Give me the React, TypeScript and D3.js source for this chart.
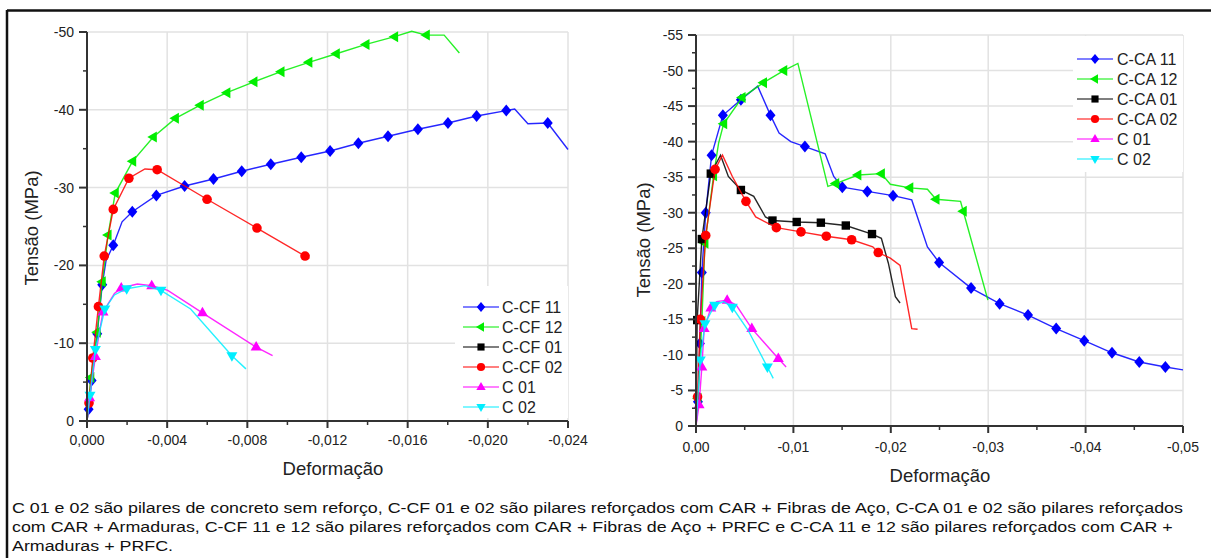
import React from 'react';
import * as d3 from 'd3';

// [strain, stress (MPa), marker flag]
type Pt = [number, number, number];

// ---------- Pilares C-CF (CAR + Fibras de Aço) ----------
const ccf11: Pt[] = [
  [0, 0, 0], [-0.00008, -1.5, 1], [-0.00023, -5.2, 1], [-0.00051, -11.2, 1], [-0.00076, -17.5, 1],
  [-0.00095, -20.6, 0], [-0.00131, -22.6, 1], [-0.00175, -25.6, 0], [-0.00226, -26.9, 1],
  [-0.00346, -29.0, 1], [-0.00487, -30.2, 1], [-0.00631, -31.1, 1], [-0.00772, -32.1, 1],
  [-0.00917, -33.0, 1], [-0.01069, -33.9, 1], [-0.01213, -34.7, 1], [-0.01354, -35.7, 1],
  [-0.01502, -36.6, 1], [-0.01651, -37.5, 1], [-0.01801, -38.3, 1], [-0.01944, -39.2, 1],
  [-0.02092, -39.9, 1], [-0.02134, -40.1, 0], [-0.0220, -38.2, 0], [-0.02299, -38.3, 1],
  [-0.0240, -34.9, 0],
];
const ccf12: Pt[] = [
  [0, 0, 0], [-0.00019, -5.6, 1], [-0.00051, -11.4, 1], [-0.00076, -17.9, 1], [-0.00105, -23.9, 1],
  [-0.00141, -29.3, 1], [-0.00228, -33.4, 1], [-0.00331, -36.5, 1], [-0.00441, -38.9, 1],
  [-0.00565, -40.6, 1], [-0.00698, -42.2, 1], [-0.00833, -43.6, 1], [-0.00968, -44.9, 1],
  [-0.01107, -46.1, 1], [-0.01244, -47.2, 1], [-0.01392, -48.4, 1], [-0.01535, -49.4, 1],
  [-0.0162, -50.1, 0], [-0.01693, -49.6, 1], [-0.01782, -49.6, 0], [-0.01858, -47.3, 0],
];
const ccf01: Pt[] = [];
const ccf02: Pt[] = [
  [0, 0, 0], [-0.0001, -2.3, 1], [-0.00029, -8.1, 1], [-0.00057, -14.7, 1], [-0.00086, -21.2, 1],
  [-0.00131, -27.2, 1], [-0.00209, -31.2, 1], [-0.00289, -32.4, 0], [-0.0035, -32.3, 1],
  [-0.00599, -28.5, 1], [-0.00848, -24.8, 1], [-0.01088, -21.2, 1], [-0.0111, -20.9, 0],
];
const c01Left: Pt[] = [
  [0, 0, 0], [-0.00013, -3.0, 1], [-0.00042, -8.3, 1], [-0.00065, -11.9, 0], [-0.0008, -14.0, 1],
  [-0.00137, -16.4, 0], [-0.00171, -17.1, 1], [-0.00251, -17.6, 0], [-0.00323, -17.4, 1],
  [-0.00403, -16.8, 0], [-0.00576, -13.9, 1], [-0.00844, -9.5, 1], [-0.00926, -8.4, 0],
];
const c02Left: Pt[] = [
  [0, 0, 0], [-0.00015, -3.3, 1], [-0.00042, -9.2, 1], [-0.00089, -14.4, 1], [-0.00137, -16.2, 0],
  [-0.00198, -17.0, 1], [-0.00289, -17.4, 0], [-0.00369, -16.8, 1], [-0.00517, -14.4, 0],
  [-0.00723, -8.4, 1], [-0.00793, -6.7, 0],
];

// ---------- Pilares C-CA (CAR + Armaduras) ----------
const cca11: Pt[] = [
  [0, 0, 0], [-0.0002, -3.4, 1], [-0.0004, -11.6, 1], [-0.0006, -21.6, 1], [-0.001, -30.0, 1],
  [-0.0016, -38.1, 1], [-0.00276, -43.7, 1], [-0.00461, -45.9, 1], [-0.00633, -47.8, 0],
  [-0.00765, -43.7, 1], [-0.00853, -41.2, 0], [-0.00973, -40.0, 0], [-0.01118, -39.3, 1],
  [-0.01326, -38.3, 0], [-0.01414, -35.1, 0], [-0.01502, -33.6, 1], [-0.01759, -33.0, 1],
  [-0.02023, -32.4, 1], [-0.02215, -31.8, 0], [-0.02376, -25.2, 0], [-0.02496, -23.0, 1],
  [-0.02824, -19.4, 1], [-0.03117, -17.2, 1], [-0.03409, -15.6, 1], [-0.03698, -13.7, 1],
  [-0.03986, -12.0, 1], [-0.04271, -10.3, 1], [-0.04551, -9.0, 1], [-0.04819, -8.3, 1],
  [-0.0500, -7.9, 0],
];
const cca12: Pt[] = [
  [0, 0, 0], [-0.0002, -3.9, 1], [-0.0006, -14.7, 1], [-0.00092, -25.7, 1], [-0.0018, -35.2, 1],
  [-0.00232, -39.8, 0], [-0.00284, -42.5, 1], [-0.00473, -46.2, 1], [-0.00693, -48.3, 1],
  [-0.00901, -50.0, 1], [-0.01046, -51.0, 0], [-0.01354, -33.7, 0], [-0.01434, -34.1, 1],
  [-0.01662, -35.3, 1], [-0.01903, -35.5, 1], [-0.01995, -34.0, 0], [-0.02195, -33.5, 1],
  [-0.02376, -33.3, 0], [-0.02464, -31.9, 1], [-0.02716, -31.6, 0], [-0.02744, -30.2, 1],
  [-0.02997, -17.7, 0],
];
const cca01: Pt[] = [
  [0, 0, 0], [-0.00012, -14.9, 1], [-0.0006, -26.3, 1], [-0.00152, -35.5, 1], [-0.00252, -38.1, 0],
  [-0.00332, -35.1, 0], [-0.00461, -33.2, 1], [-0.00593, -32.3, 0], [-0.00713, -29.4, 0],
  [-0.00785, -28.9, 1], [-0.01034, -28.7, 1], [-0.01282, -28.6, 1], [-0.01538, -28.2, 1],
  [-0.01807, -27.0, 1], [-0.01903, -26.4, 0], [-0.01975, -22.9, 0], [-0.02047, -18.2, 0],
  [-0.02095, -17.3, 0],
];
const cca02: Pt[] = [
  [0, 0, 0], [-0.00016, -4.1, 1], [-0.00044, -15.0, 1], [-0.001, -26.8, 1], [-0.00196, -36.1, 1],
  [-0.00272, -38.1, 0], [-0.00373, -35.1, 0], [-0.00513, -31.6, 1], [-0.00613, -29.4, 0],
  [-0.00825, -27.9, 1], [-0.01078, -27.3, 1], [-0.01338, -26.7, 1], [-0.01598, -26.2, 1],
  [-0.01815, -25.2, 0], [-0.01871, -24.4, 1], [-0.01995, -23.6, 0], [-0.02095, -22.6, 0],
  [-0.02215, -13.7, 0], [-0.02275, -13.6, 0],
];
const c01Right: Pt[] = [
  [0, 0, 0], [-0.00032, -3.0, 1], [-0.0006, -8.3, 1], [-0.00084, -13.7, 1], [-0.00152, -16.6, 1],
  [-0.00212, -17.5, 0], [-0.0032, -17.7, 1], [-0.00413, -17.0, 0], [-0.00573, -13.7, 1],
  [-0.00845, -9.5, 1], [-0.00925, -8.3, 0],
];
const c02Right: Pt[] = [
  [0, 0, 0], [-0.00044, -9.3, 1], [-0.00092, -14.4, 1], [-0.00192, -17.0, 1], [-0.00284, -17.5, 0],
  [-0.00373, -16.7, 1], [-0.00533, -13.5, 0], [-0.00733, -8.3, 1], [-0.00793, -6.7, 0],
];

// ---------- Eixos ----------
const ccfStrainTicks = [0, -0.004, -0.008, -0.012, -0.016, -0.020, -0.024];
const ccfStrainMinor = [-0.002, -0.006, -0.010, -0.014, -0.018, -0.022];
const ccfStressTicks = [0, -10, -20, -30, -40, -50];
const ccfStressMinor = [-5, -15, -25, -35, -45];

const ccaStrainTicks = [0, -0.01, -0.02, -0.03, -0.04, -0.05];
const ccaStrainMinor = [-0.005, -0.015, -0.025, -0.035, -0.045];
const ccaStressTicks = [0, -5, -10, -15, -20, -25, -30, -35, -40, -45, -50, -55];
const ccaStressMinor = [-2.5, -7.5, -12.5, -17.5, -22.5, -27.5, -32.5, -37.5, -42.5, -47.5, -52.5];

const captionLines = [
  'C 01 e 02 são pilares de concreto sem reforço, C-CF 01 e 02 são pilares reforçados com CAR + Fibras de Aço, C-CA 01 e 02 são pilares reforçados',
  'com CAR + Armaduras, C-CF 11 e 12 são pilares reforçados com CAR + Fibras de Aço + PRFC e C-CA 11 e 12 são pilares reforçados com CAR +',
  'Armaduras + PRFC.',
];

const ptBR = d3.formatLocale({ decimal: ',', thousands: '.', grouping: [3], currency: ['R$', ''], minus: '-' });

type Shape = 'diamond' | 'triLeft' | 'square' | 'circle' | 'triUp' | 'triDown';
interface Series { name: string; color: string; shape: Shape; data: Pt[] }

const ccfSeries: Series[] = [
  { name: 'C-CF 11', color: '#0000ff', shape: 'diamond', data: ccf11 },
  { name: 'C-CF 12', color: '#00ee00', shape: 'triLeft', data: ccf12 },
  { name: 'C-CF 01', color: '#000000', shape: 'square', data: ccf01 },
  { name: 'C-CF 02', color: '#ff0000', shape: 'circle', data: ccf02 },
  { name: 'C 01', color: '#ff00ff', shape: 'triUp', data: c01Left },
  { name: 'C 02', color: '#00eeff', shape: 'triDown', data: c02Left },
];
const ccaSeries: Series[] = [
  { name: 'C-CA 11', color: '#0000ff', shape: 'diamond', data: cca11 },
  { name: 'C-CA 12', color: '#00ee00', shape: 'triLeft', data: cca12 },
  { name: 'C-CA 01', color: '#000000', shape: 'square', data: cca01 },
  { name: 'C-CA 02', color: '#ff0000', shape: 'circle', data: cca02 },
  { name: 'C 01', color: '#ff00ff', shape: 'triUp', data: c01Right },
  { name: 'C 02', color: '#00eeff', shape: 'triDown', data: c02Right },
];

const FONT = '"Liberation Sans", Arial, sans-serif';
const AXIS = '#333';
const GRID = '#e2e2e2';

function markerPath(shape: Shape, s = 1): string {
  const p = d3.path();
  switch (shape) {
    case 'diamond':
      p.moveTo(0, -6 * s); p.lineTo(5 * s, 0); p.lineTo(0, 6 * s); p.lineTo(-5 * s, 0); p.closePath(); break;
    case 'square':
      p.rect(-4.2 * s, -4.2 * s, 8.4 * s, 8.4 * s); break;
    case 'circle':
      p.arc(0, 0, 4.8 * s, 0, Math.PI * 2); p.closePath(); break;
    case 'triUp':
      p.moveTo(0, -6 * s); p.lineTo(5.5 * s, 3.5 * s); p.lineTo(-5.5 * s, 3.5 * s); p.closePath(); break;
    case 'triDown':
      p.moveTo(0, 6 * s); p.lineTo(5.5 * s, -3.5 * s); p.lineTo(-5.5 * s, -3.5 * s); p.closePath(); break;
    case 'triLeft':
      p.moveTo(-6 * s, 0); p.lineTo(3.5 * s, -5.5 * s); p.lineTo(3.5 * s, 5.5 * s); p.closePath(); break;
  }
  return p.toString();
}

interface ChartProps {
  x0: number; x1: number; yTop: number; yBottom: number;
  xDomain: [number, number]; yDomain: [number, number];
  xTicks: number[]; xMinor: number[]; yTicks: number[]; yMinor: number[];
  xFmt: string;
  series: Series[];
  legend: { x: number; y: number; w: number; h: number; lineX0: number; textX: number; firstY: number; step: number };
  xTitleX: number; xTitleY: number; yTitleX: number; yTitleY: number;
  xLabelY: number;
}

function Chart(props: ChartProps) {
  const { x0, x1, yTop, yBottom, series, legend } = props;
  const xs = d3.scaleLinear().domain(props.xDomain).range([x0, x1]);
  const ys = d3.scaleLinear().domain(props.yDomain).range([yBottom, yTop]);
  const fx = ptBR.format(props.xFmt);
  const fy = ptBR.format('d');
  const line = d3.line<Pt>().x(d => xs(d[0])).y(d => ys(d[1]));

  return (
    <g>
      {/* grade */}
      {props.xTicks.filter(t => t !== 0).map(t => (
        <line key={'gx' + t} x1={xs(t)} x2={xs(t)} y1={yBottom} y2={yTop} stroke={GRID} strokeWidth={1.5} />
      ))}
      {props.yTicks.filter(t => t !== 0).map(t => (
        <line key={'gy' + t} x1={x0} x2={x1} y1={ys(t)} y2={ys(t)} stroke={GRID} strokeWidth={1.5} />
      ))}
      {/* fundo da legenda */}
      <rect x={legend.x} y={legend.y} width={legend.w} height={legend.h} fill="#fff" />

      {/* curvas */}
      {series.map(s => s.data.length > 0 && (
        <g key={s.name}>
          <path d={line(s.data) || ''} fill="none" stroke={s.color} strokeWidth={1.4} strokeOpacity={0.85} />
          {s.data.filter(d => d[2] === 1).map((d, i) => (
            <path key={i} d={markerPath(s.shape)} transform={`translate(${xs(d[0])},${ys(d[1])})`} fill={s.color} />
          ))}
        </g>
      ))}

      {/* eixos */}
      <line x1={x0} x2={x1} y1={yBottom} y2={yBottom} stroke={AXIS} strokeWidth={2} />
      <line x1={x0} x2={x0} y1={yBottom} y2={yTop} stroke={AXIS} strokeWidth={2} />
      {props.xTicks.map(t => (
        <g key={'xt' + t}>
          <line x1={xs(t)} x2={xs(t)} y1={yBottom} y2={yBottom + 7} stroke={AXIS} strokeWidth={2} />
          <text x={xs(t)} y={props.xLabelY} textAnchor="middle" fontSize={14} fontFamily={FONT} fill="#222">{fx(t)}</text>
        </g>
      ))}
      {props.xMinor.map(t => (
        <line key={'xm' + t} x1={xs(t)} x2={xs(t)} y1={yBottom - 1} y2={yBottom + 4} stroke={AXIS} strokeWidth={1.5} />
      ))}
      {props.yTicks.map(t => (
        <g key={'yt' + t}>
          <line x1={x0 - 8} x2={x0} y1={ys(t)} y2={ys(t)} stroke={AXIS} strokeWidth={2} />
          <text x={x0 - 13} y={ys(t) + 5} textAnchor="end" fontSize={14} fontFamily={FONT} fill="#222">{fy(t)}</text>
        </g>
      ))}
      {props.yMinor.map(t => (
        <line key={'ym' + t} x1={x0 - 4} x2={x0} y1={ys(t)} y2={ys(t)} stroke={AXIS} strokeWidth={1.5} />
      ))}

      {/* títulos */}
      <text x={props.xTitleX} y={props.xTitleY} textAnchor="middle" fontSize={18.5} fontFamily={FONT} fill="#222">Deformação</text>
      <text transform={`translate(${props.yTitleX},${props.yTitleY}) rotate(-90)`} textAnchor="middle" fontSize={18.5} fontFamily={FONT} fill="#222">Tensão (MPa)</text>

      {/* legenda */}
      {series.map((s, i) => {
        const cy = legend.firstY + i * legend.step;
        const cx = legend.lineX0 + 18;
        return (
          <g key={'lg' + s.name}>
            <line x1={legend.lineX0} x2={legend.lineX0 + 36} y1={cy} y2={cy} stroke={s.color} strokeWidth={2} strokeOpacity={0.5} />
            <path d={markerPath(s.shape, 0.85)} transform={`translate(${cx},${cy})`} fill={s.color} />
            <text x={legend.textX} y={cy + 5.5} fontSize={16} fontFamily={FONT} fill="#222">{s.name}</text>
          </g>
        );
      })}
    </g>
  );
}

export default function App() {
  return (
    <svg width={1211} height={558} viewBox="0 0 1211 558" style={{ position: 'absolute', left: 0, top: 0, background: '#fff' }}>
      <rect x={0} y={0} width={1211} height={558} fill="#fff" />
      {/* moldura */}
      <line x1={7} x2={1211} y1={10.5} y2={10.5} stroke="#111" strokeWidth={2.5} />
      <line x1={7} x2={7} y1={10} y2={558} stroke="#111" strokeWidth={2.5} />

      <Chart
        x0={87} x1={568} yTop={32} yBottom={421}
        xDomain={[0, -0.024]} yDomain={[0, -50]}
        xTicks={ccfStrainTicks} xMinor={ccfStrainMinor} yTicks={ccfStressTicks} yMinor={ccfStressMinor}
        xFmt=".3f" series={ccfSeries}
        legend={{ x: 455, y: 286, w: 113, h: 132, lineX0: 463, textX: 502, firstY: 307, step: 20 }}
        xTitleX={333} xTitleY={475} yTitleX={38} yTitleY={228} xLabelY={445}
      />
      <Chart
        x0={696} x1={1183} yTop={35} yBottom={426}
        xDomain={[0, -0.05]} yDomain={[0, -55]}
        xTicks={ccaStrainTicks} xMinor={ccaStrainMinor} yTicks={ccaStressTicks} yMinor={ccaStressMinor}
        xFmt=".2f" series={ccaSeries}
        legend={{ x: 1073, y: 36, w: 110, h: 136, lineX0: 1077, textX: 1117, firstY: 59, step: 20 }}
        xTitleX={940} xTitleY={482} yTitleX={650} yTitleY={240} xLabelY={452}
      />

      {/* nota explicativa, em fonte levemente alongada na horizontal */}
      <g transform="translate(12,0) scale(1.19,1)">
        {captionLines.map((t, i) => (
          <text key={i} x={0} y={513 + i * 19} fontSize={15} fontFamily={FONT} fill="#111">{t}</text>
        ))}
      </g>
    </svg>
  );
}
